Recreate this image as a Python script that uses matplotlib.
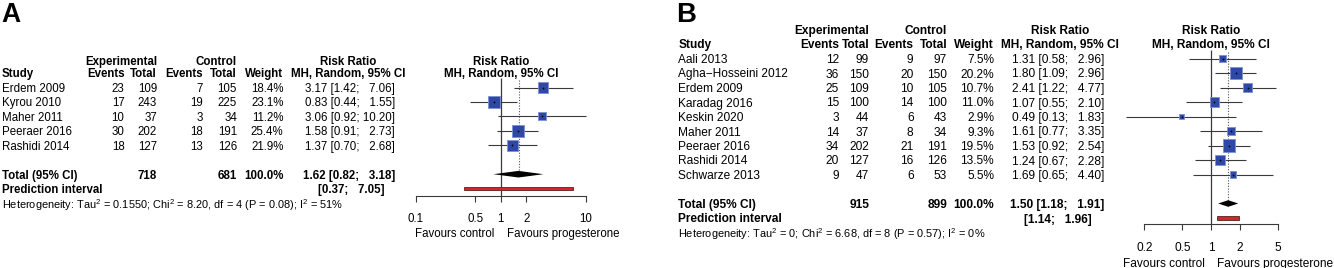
import matplotlib
matplotlib.use("Agg")
import matplotlib.pyplot as plt
from matplotlib.ticker import NullLocator
from matplotlib.transforms import offset_copy

plt.rcParams['font.family'] = ['Liberation Sans', 'DejaVu Sans']
plt.rcParams['mathtext.fontset'] = 'custom'
plt.rcParams['mathtext.rm'] = 'Liberation Sans'
plt.rcParams['mathtext.it'] = 'Liberation Sans:italic'
plt.rcParams['mathtext.bf'] = 'Liberation Sans:bold'

# ---- panel A data
studies_a = ["Erdem 2009", "Kyrou 2010", "Maher 2011", "Peeraer 2016", "Rashidi 2014"]
exp_events_a = [23, 17, 10, 30, 18]
exp_total_a = [109, 243, 37, 202, 127]
ctrl_events_a = [7, 19, 3, 18, 13]
ctrl_total_a = [105, 225, 34, 191, 126]
weight_a = [18.4, 23.1, 11.2, 25.4, 21.9]
rr_a = [3.17, 0.83, 3.06, 1.58, 1.37]
lo_a = [1.42, 0.44, 0.92, 0.91, 0.70]
hi_a = [7.06, 1.55, 10.20, 2.73, 2.68]
total_a = [718, 681]            # experimental, control
pooled_a = [1.62, 0.82, 3.18]
pred_a = [0.37, 7.05]
het_a = "Heterogeneity: Tau$^2$ = 0.1550; Chi$^2$ = 8.20, df = 4 (P = 0.08); I$^2$ = 51%"
ticks_a = [0.1, 0.5, 1, 2, 10]

# ---- panel B data
studies_b = ["Aali 2013", "Agha\u2212Hosseini 2012", "Erdem 2009", "Karadag 2016", "Keskin 2020",
             "Maher 2011", "Peeraer 2016", "Rashidi 2014", "Schwarze 2013"]
exp_events_b = [12, 36, 25, 15, 3, 14, 34, 20, 9]
exp_total_b = [99, 150, 109, 100, 44, 37, 202, 127, 47]
ctrl_events_b = [9, 20, 10, 14, 6, 8, 21, 16, 6]
ctrl_total_b = [97, 150, 105, 100, 43, 34, 191, 126, 53]
weight_b = [7.5, 20.2, 10.7, 11.0, 2.9, 9.3, 19.5, 13.5, 5.5]
rr_b = [1.31, 1.80, 2.41, 1.07, 0.49, 1.61, 1.53, 1.24, 1.69]
lo_b = [0.58, 1.09, 1.22, 0.55, 0.13, 0.77, 0.92, 0.67, 0.65]
hi_b = [2.96, 2.96, 4.77, 2.10, 1.83, 3.35, 2.54, 2.28, 4.40]
total_b = [915, 899]
pooled_b = [1.50, 1.18, 1.91]
pred_b = [1.14, 1.96]
het_b = "Heterogeneity: Tau$^2$ = 0; Chi$^2$ = 6.68, df = 8 (P = 0.57); I$^2$ = 0%"
ticks_b = [0.2, 0.5, 1, 2, 5]

W, H = 1334, 268
SQ_COL = '#2f48a6'
SQ_EDGE = '#7d8fd6'
LINE_COL = '#3a3a3a'


def ci_text(est, lo, hi):
    s_hi = "%.2f" % hi
    if len(s_hi) < 5:
        s_hi = "  " + s_hi
    return "%.2f [%.2f; %s]" % (est, lo, s_hi)


def draw_panel(fig, ax, lay, label, studies, ee, et, ce, ct, w, rr, lo, hi,
               tot, pooled, pred, het, ticks):
    fs = lay['fs']
    ax.text(lay['lab_x'], lay['lab_y'], label, fontsize=fs * 2.3, weight='bold', ha='left', va='center')

    def t(x, y, s, ha='right', bold=False, size=None):
        ax.text(x, y, s, ha=ha, va='center_baseline', fontsize=size or fs,
                weight='bold' if bold else 'normal')

    c = lay['cols']
    h1, h2 = lay['h1'], lay['h2']
    # headers
    t(c['exp_tot'], h1, "Experimental", bold=True)
    t(c['ctl_tot'], h1, "Control", bold=True)
    t(c['rr_mid'], h1, "Risk Ratio", ha='center', bold=True)
    t(c['study'], h2, "Study", ha='left', bold=True)
    t(c['exp_ev'], h2, "Events", bold=True)
    t(c['exp_tot'], h2, "Total", bold=True)
    t(c['ctl_ev'], h2, "Events", bold=True)
    t(c['ctl_tot'], h2, "Total", bold=True)
    t(c['weight'], h2, "Weight", bold=True)
    t(c['rr_mid'], h2, "MH, Random, 95% CI", ha='center', bold=True)

    rows = [lay['row0'] + i * lay['step'] for i in range(len(studies))]
    for i, y in enumerate(rows):
        t(c['study'], y, studies[i], ha='left')
        t(c['exp_ev'], y, str(ee[i]))
        t(c['exp_tot'], y, str(et[i]))
        t(c['ctl_ev'], y, str(ce[i]))
        t(c['ctl_tot'], y, str(ct[i]))
        t(c['weight'], y, "%.1f%%" % w[i])
        t(c['ci'], y, ci_text(rr[i], lo[i], hi[i]))

    y_tot = rows[-1] + 2 * lay['step']
    y_pred = y_tot + lay['step']
    y_het = y_pred + lay['step']
    t(c['study'], y_tot, "Total (95% CI)", ha='left', bold=True)
    t(c['exp_tot'], y_tot, str(tot[0]), bold=True)
    t(c['ctl_tot'], y_tot, str(tot[1]), bold=True)
    t(c['weight'], y_tot, "100.0%", bold=True)
    t(c['ci'], y_tot, ci_text(*pooled), bold=True)
    t(c['study'], y_pred, "Prediction interval", ha='left', bold=True)
    pl = "%.2f" % pred[1]
    t(c['pred'], y_pred, "[%.2f; %s]" % (pred[0], ("  " + pl) if len(pl) < 5 else pl), bold=True)
    t(c['study'], y_het, het, ha='left', size=lay['het_fs'])

    # forest axes, x mapped to pixels through the log scale
    x0, x1 = lay['fx']
    fax = fig.add_axes([x0 / W, 0, (x1 - x0) / W, 1])
    fax.set_xscale('log')
    fax.set_xlim(ticks[0], ticks[-1])
    fax.set_ylim(H, 0)
    fax.patch.set_visible(False)
    for s in ['top', 'left', 'right']:
        fax.spines[s].set_visible(False)
    ay = lay['axis_y']
    fax.spines['bottom'].set_position(('data', ay))
    fax.spines['bottom'].set_bounds(ticks[0], ticks[-1])
    fax.spines['bottom'].set_linewidth(0.8)
    fax.spines['bottom'].set_color(LINE_COL)
    fax.set_yticks([])
    fax.set_xticks(ticks)
    fax.set_xticklabels([("%g" % v) for v in ticks])
    fax.xaxis.set_minor_locator(NullLocator())
    fax.tick_params(axis='x', direction='out', length=4.3, width=0.8, color=LINE_COL,
                    labelsize=fs, pad=lay['tick_pad'])

    fax.text(1, h1, "Risk Ratio", ha='center', va='center_baseline', fontsize=fs, weight='bold')
    fax.text(1, h2, "MH, Random, 95% CI", ha='center', va='center_baseline', fontsize=fs, weight='bold')

    fax.vlines(1, lay['vtop'], ay, color=LINE_COL, lw=0.9)
    fax.vlines(pooled[0], lay['vtop'] + 2, y_tot - 2, color='#555555', lw=0.8,
               linestyles=(0, (1, 1.5)))

    fax.hlines(rows, lo, hi, color=LINE_COL, lw=0.8, clip_on=False, zorder=2)
    wmax = max(w)
    sizes = [(lay['sq'] * (wi / wmax) ** 0.5 * 0.72) ** 2 for wi in w]
    fax.scatter(rr, rows, s=sizes, marker='s', c=SQ_COL, edgecolors=SQ_EDGE, linewidths=0.6,
                zorder=3, clip_on=False)
    fax.scatter(rr, rows, s=3, marker='+', c='black', linewidths=0.5, zorder=4, clip_on=False)

    dh = lay['dh']
    fax.fill([pooled[1], pooled[0], pooled[2], pooled[0]],
             [y_tot, y_tot - dh, y_tot, y_tot + dh], color='black', zorder=3, lw=0)
    bh = 1.6
    fax.fill([pred[0], pred[1], pred[1], pred[0]],
             [y_pred - bh, y_pred - bh, y_pred + bh, y_pred + bh],
             facecolor='#d0262c', edgecolor='#5a2020', lw=0.6, zorder=3)

    off_l = offset_copy(fax.transData, fig=fig, x=-6 * 0.72, y=0, units='points')
    off_r = offset_copy(fax.transData, fig=fig, x=6 * 0.72, y=0, units='points')
    fax.text(1, lay['fav_y'], "Favours control", ha='right', va='center_baseline', fontsize=fs,
             transform=off_l)
    fax.text(1, lay['fav_y'], "Favours progesterone", ha='left', va='center_baseline', fontsize=fs,
             transform=off_r)


fig = plt.figure(figsize=(W / 100, H / 100), dpi=100)
ax = fig.add_axes([0, 0, 1, 1])
ax.set_xlim(0, W)
ax.set_ylim(H, 0)
ax.axis('off')

lay_a = dict(fs=8.3, het_fs=7.9, lab_x=1, lab_y=15, h1=60.5, h2=72.7, row0=87.5, step=14.45,
             cols=dict(study=2, exp_ev=124.5, exp_tot=157, ctl_ev=202.5, ctl_tot=237, weight=283.5,
                       ci=395, rr_mid=348, pred=384),
             fx=(415.7, 585.7), axis_y=195.7, tick_pad=8.3, vtop=78, sq=12, dh=3.3, fav_y=232.7)
lay_b = dict(fs=8.6, het_fs=7.9, lab_x=676, lab_y=15, h1=29.3, h2=43.3, row0=58.5, step=14.5,
             cols=dict(study=678.5, exp_ev=839, exp_tot=869, ctl_ev=913.5, ctl_tot=947, weight=994,
                       ci=1104, rr_mid=1060, pred=1092),
             fx=(1144.3, 1278.3), axis_y=224.3, tick_pad=8.3, vtop=50, sq=12.3, dh=3.3, fav_y=262.7)

draw_panel(fig, ax, lay_a, "A", studies_a, exp_events_a, exp_total_a, ctrl_events_a, ctrl_total_a,
           weight_a, rr_a, lo_a, hi_a, total_a, pooled_a, pred_a, het_a, ticks_a)
draw_panel(fig, ax, lay_b, "B", studies_b, exp_events_b, exp_total_b, ctrl_events_b, ctrl_total_b,
           weight_b, rr_b, lo_b, hi_b, total_b, pooled_b, pred_b, het_b, ticks_b)

fig.savefig("out.png", dpi=100)
